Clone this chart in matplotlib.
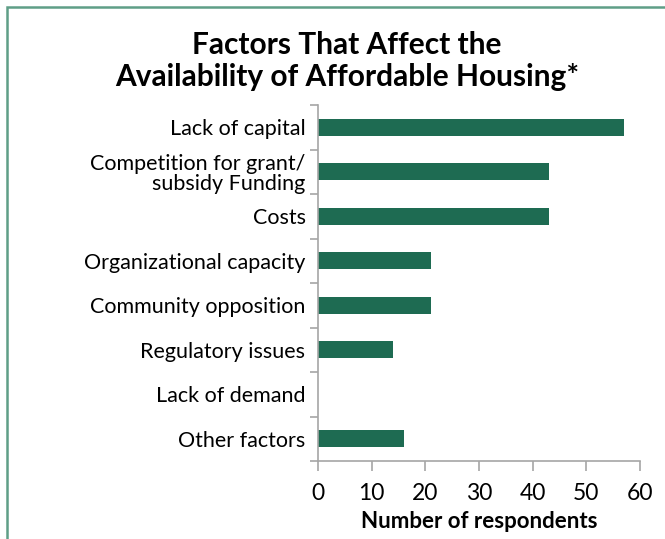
import matplotlib.pyplot as plt
from matplotlib.patches import Rectangle
import numpy as np

plt.rcParams['font.family'] = ['Lato', 'DejaVu Sans']

categories = ["Lack of capital", "Competition for grant/\nsubsidy Funding", "Costs",
              "Organizational capacity", "Community opposition", "Regulatory issues",
              "Lack of demand", "Other factors"]
respondents = [57, 43, 43, 21, 21, 14, 0, 16]
xticks = [0, 10, 20, 30, 40, 50, 60]

bar_color = "#1e6b52"
spine_color = "#a6a6a6"

fig = plt.figure(figsize=(6.65, 5.39), dpi=100)
ax = fig.add_axes([318/665, 1 - 461/539, (640 - 318)/665, (461 - 105)/539])

ypos = np.arange(len(categories))
ax.barh(ypos, respondents, height=0.38, color=bar_color)

ax.set_ylim(len(categories) - 0.5, -0.5)
ax.set_xlim(0, 60)
ax.set_yticks(ypos)
ax.set_yticklabels(categories, fontsize=15.5, linespacing=1.0)
ax.tick_params(axis='y', length=0, pad=9)
ax.set_yticks(np.arange(len(categories) + 1) - 0.5, minor=True)
ax.tick_params(axis='y', which='minor', length=6, color=spine_color, width=1.2)

ax.set_xticks(xticks)
ax.tick_params(axis='x', labelsize=16.5, length=7, color=spine_color, width=1.2, pad=9)
ax.set_xlabel("Number of respondents", fontsize=16, fontweight='bold', labelpad=5)

for s in ['top', 'right']:
    ax.spines[s].set_visible(False)
for s in ['left', 'bottom']:
    ax.spines[s].set_color(spine_color)
    ax.spines[s].set_linewidth(1.2)

fig.text(347/665, 1 - 61/539, "Factors That Affect the\nAvailability of Affordable Housing*",
         ha='center', va='center', fontsize=21.5, fontweight='bold', linespacing=1.2)

# outer frame and cut-off chart label
fig.patches.append(Rectangle((7/665, -0.1), 1.2, 1 - 7/539 + 0.1, transform=fig.transFigure,
                             fill=False, edgecolor="#5f9e87", linewidth=1.8))
fig.text(-0.01, 1 + 12/539, "Chart 2", ha='left', va='center', fontsize=20, fontweight='bold')

fig.savefig("out.png", dpi=100)
